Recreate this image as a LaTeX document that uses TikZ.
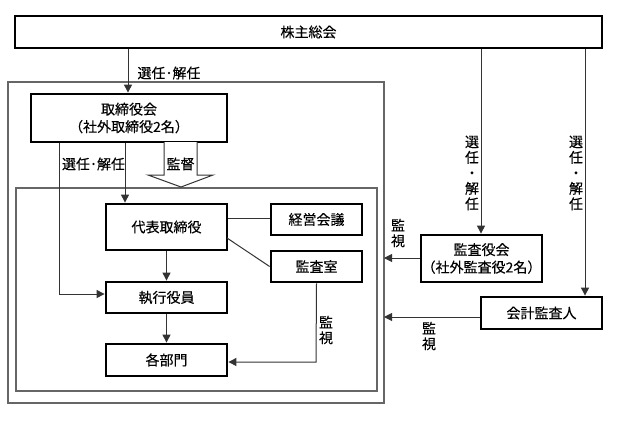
\documentclass[tikz,border=0pt]{standalone}
\usepackage{fontspec}
\setmainfont{Noto Sans CJK JP}[FakeBold=0.3]
\usetikzlibrary{arrows.meta}
\begin{document}
\begin{tikzpicture}[x=1pt,y=-1pt,
  font=\fontsize{14}{17.5}\selectfont,
  box/.style={draw=black, line width=2.8pt, fill=white, inner sep=0pt, align=center},
  frame/.style={draw=black!60, line width=1.2pt},
  conn/.style={draw=black!80, line width=1pt},
  arr/.style={conn, -{Triangle[length=8pt,width=8pt]}},
  vlab/.style={align=center, inner sep=0pt, font=\fontsize{14}{15.5}\selectfont}]
\useasboundingbox (0,0) rectangle (617,423);
% frames
\draw[frame] (8,82) rectangle (384,403);
\draw[frame] (16,188) rectangle (377,391);
% boxes
\node[box, minimum width=587pt, minimum height=32pt] (kabu) at (308.5,32) {株主総会};
\node[box, minimum width=196pt, minimum height=48pt] (tori) at (129,118) {取締役会\\（社外取締役2名）};
\node[box, minimum width=121pt, minimum height=46pt] (dai) at (166.5,227) {代表取締役};
\node[box, minimum width=91pt, minimum height=31pt] (kei) at (316.5,219.5) {経営会議};
\node[box, minimum width=91pt, minimum height=31pt] (shitsu) at (316.5,266.5) {監査室};
\node[box, minimum width=121pt, minimum height=31pt] (shik) at (166.5,297.5) {執行役員};
\node[box, minimum width=121pt, minimum height=32pt] (bu) at (166.5,360) {各部門};
\node[box, minimum width=121pt, minimum height=47pt] (kansa) at (481.5,258.5) {監査役会\\（社外監査役2名）};
\node[box, minimum width=121pt, minimum height=32pt] (kaikei) at (541.5,313) {会計監査人};
% coordinates
\coordinate (f1) at (384,258);
\coordinate (f2) at (384,317);
% connectors
\draw[arr] (kabu.south -| 128,0) -- (tori.north -| 128,0);
\node (l1) at (169,73) {選任･解任};
\draw[arr] (tori.south -| 59,0) -- (59,294) -- (shik.west |- 0,294);
\draw[arr] (tori.south -| 125,0) -- (dai.north -| 125,0);
\node (l2) at (93.5,164) {選任･解任};
% hollow arrow
\draw[conn, fill=white] (164,142) -- (164,175) -- (148,175) -- (181,187) -- (213,175) -- (197,175) -- (197,142);
\node (l3) at (180.5,164) {監督};
\draw[conn] (dai.east |- 0,218) -- (kei.west |- 0,218);
\draw[conn] (227,238) -- (shitsu.west);
\draw[arr] (dai.south) -- (shik.north);
\draw[arr] (shik.south) -- (bu.north);
\draw[arr] (shitsu.south) -- (316,362) -- (bu.east |- 0,362);
\node[vlab] (l4) at (326,330) {監\\視};
% right side
\draw[arr] (kabu.south -| 481,0) -- (kansa.north -| 481,0);
\node[vlab] (l5) at (472,173) {選\\任\\・\\解\\任};
\draw[arr] (kabu.south -| 585,0) -- (kaikei.north -| 585,0);
\node[vlab] (l6) at (576,173) {選\\任\\・\\解\\任};
\draw[arr] (kansa.west |- f1) -- (f1);
\node[vlab] (l7) at (398,233) {監\\視};
\draw[arr] (kaikei.west |- f2) -- (f2);
\node[vlab] (l8) at (429,336) {監\\視};
\end{tikzpicture}
\end{document}
